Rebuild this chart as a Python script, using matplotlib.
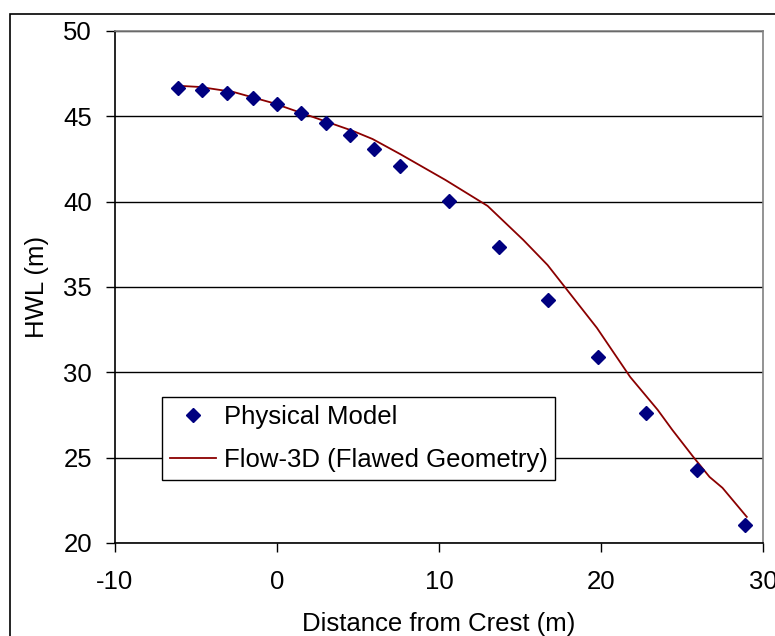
import matplotlib
matplotlib.use("Agg")
import matplotlib.pyplot as plt
from matplotlib.patches import Rectangle

# Physical model measurements
phys_x = [-6.1, -4.6, -3.1, -1.5, 0.0, 1.5, 3.0, 4.5, 6.0, 7.6, 10.6, 13.7, 16.7, 19.8, 22.8, 25.9, 28.9]
phys_y = [46.66, 46.54, 46.37, 46.08, 45.72, 45.20, 44.61, 43.91, 43.09, 42.09, 40.04, 37.35, 34.24, 30.90, 27.62, 24.28, 21.06]

# Flow-3D (flawed geometry) profile
flow_x = [-5.9, -4.75, -2.7, -0.25, 3.1, 4.7, 5.9, 7.6, 10.4, 13.0, 15.2, 16.7, 19.75, 21.8, 23.5, 24.4, 25.7, 26.7, 27.5, 29.0]
flow_y = [46.78, 46.72, 46.43, 45.78, 44.67, 44.14, 43.67, 42.79, 41.27, 39.75, 37.76, 36.29, 32.60, 29.73, 27.80, 26.63, 25.04, 23.87, 23.23, 21.53]

x_ticks = [-10, 0, 10, 20, 30]
y_ticks = [20, 25, 30, 35, 40, 45, 50]

plt.rcParams['font.family'] = ['Liberation Sans', 'DejaVu Sans']
plt.rcParams['axes.unicode_minus'] = False

FS = 18.5

fig = plt.figure(figsize=(7.75, 6.36), dpi=100)
ax = fig.add_axes([115/775, 1-543/636, (763-115)/775, (543-31)/636])

# outer chart frame
fig.patches.append(Rectangle((10/775, -0.2), 1.2, 1 - 14/636 + 0.2, transform=fig.transFigure,
                             fill=False, edgecolor='black', linewidth=1.2))

ax.plot(flow_x, flow_y, color='#8B0000', linewidth=1.3, label='Flow-3D (Flawed Geometry)', zorder=3)
ax.plot(phys_x, phys_y, linestyle='none', marker='D', markersize=7.5, color='#000080',
        label='Physical Model', zorder=4)

ax.set_xlim(-10, 30)
ax.set_ylim(20, 50)
ax.set_xticks(x_ticks)
ax.set_yticks(y_ticks)
ax.yaxis.grid(True, color='black', linewidth=1.0)
ax.set_axisbelow(True)

for s in ['top', 'right']:
    ax.spines[s].set_color('#808080')
    ax.spines[s].set_linewidth(1.2)
for s in ['left', 'bottom']:
    ax.spines[s].set_color('black')
    ax.spines[s].set_linewidth(1.2)

ax.tick_params(axis='both', direction='out', length=6.5, width=1, labelsize=FS, colors='black')
ax.tick_params(axis='x', pad=13)
ax.tick_params(axis='y', pad=10)
ax.set_xlabel('Distance from Crest (m)', fontsize=FS, labelpad=13)
ax.set_ylabel('HWL (m)', fontsize=FS, labelpad=10)

handles, labels = ax.get_legend_handles_labels()
order = [1, 0]
leg = ax.legend([handles[i] for i in order], [labels[i] for i in order],
                loc='upper left', bbox_to_anchor=(162/775, 1-397/636), bbox_transform=fig.transFigure,
                fontsize=FS, frameon=True, fancybox=False, edgecolor='black', framealpha=1,
                borderpad=0.3, handlelength=1.8, handletextpad=0.3, labelspacing=0.75, borderaxespad=0)
leg.get_frame().set_linewidth(1.0)

fig.savefig('out.png', dpi=100)
